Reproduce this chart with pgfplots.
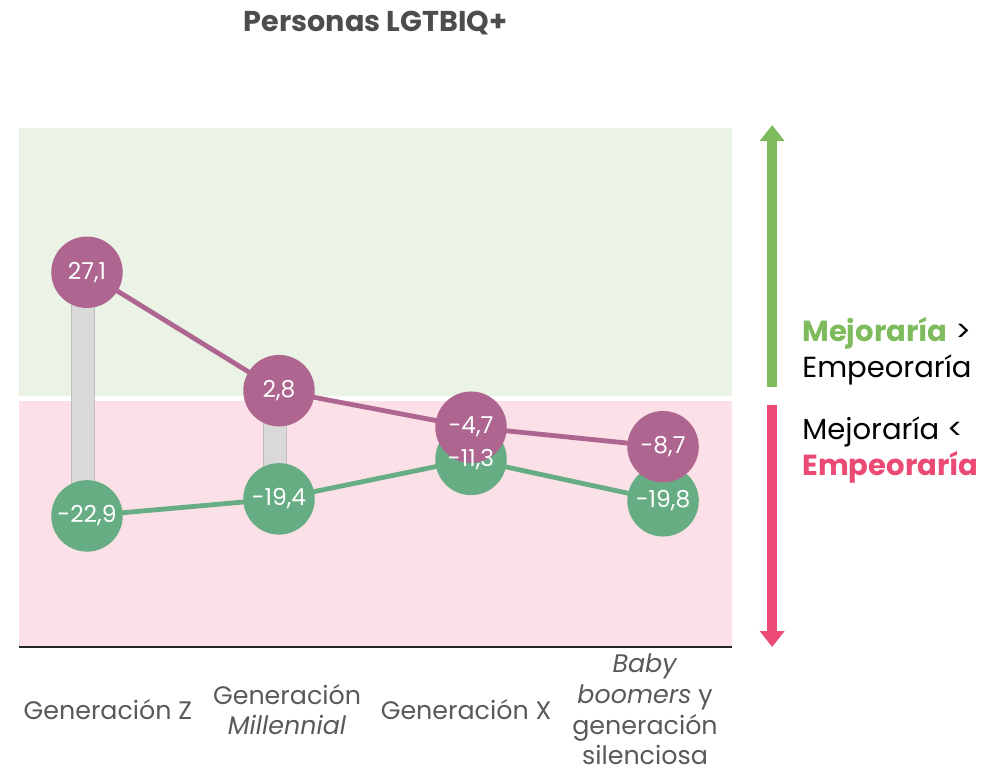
\documentclass[border=0pt]{standalone}
\usepackage{pgfplots}
\pgfplotsset{compat=1.18}
\usepackage{pgfplotstable}
\usepackage{fontspec}
\setmainfont{Poppins}
\usetikzlibrary{arrows.meta}

\definecolor{cpurple}{HTML}{AE6690}
\definecolor{cgreen}{HTML}{67AD84}
\definecolor{bggreen}{HTML}{EBF3E6}
\definecolor{bgpink}{HTML}{FBE0E7}
\definecolor{argreen}{HTML}{7DBB5C}
\definecolor{arpink}{HTML}{EB4A75}
\definecolor{barfill}{HTML}{D9D9D9}
\definecolor{baredge}{HTML}{BEBEBE}
\definecolor{axline}{HTML}{262626}
\definecolor{ticktxt}{HTML}{595959}
\definecolor{titletxt}{HTML}{4D4D4D}

\pgfplotstableread{
x y lbl
0 -22.9 -22,9
1 -19.4 -19,4
2 -11.3 -11,3
3 -19.8 -19,8
}\serieverde

\pgfplotstableread{
x y lbl
0 27.1 27,1
1 2.8 2,8
2 -4.7 -4,7
3 -8.7 -8,7
}\seriemorada

\begin{document}
\begin{tikzpicture}
\path[use as bounding box] (-14.25pt,-93.75pt) rectangle (738.75pt,485.25pt);
\begin{axis}[
  at={(0,0)}, anchor=south west,
  scale only axis,
  width=534.75pt, height=389.25pt,
  xmin=-0.354, xmax=3.359,
  ymin=-49.8, ymax=56.7,
  clip=false,
  axis on top,
  axis x line*=bottom,
  axis y line=none,
  x axis line style={line width=2pt, color=axline},
  xtick={0.109,1.042,1.974,2.906},
  major tick length=0pt,
  xticklabels={Generación Z, Generación\\\textit{Millennial}, Generación X, \textit{Baby}\\\textit{boomers} y\\generación\\silenciosa},
  xticklabel style={anchor=center, align=center, yshift=-47pt, text=ticktxt, font=\fontsize{19}{23}\selectfont},
  labelstyle/.style={draw=none, mark=none, nodes near coords, point meta=explicit symbolic,
    every node near coord/.append style={anchor=center, text=white, font=\fontsize{17.5}{20}\selectfont}},
]
% background bands
\fill[bggreen] (axis cs:-0.354,1.8) rectangle (axis cs:3.359,56.7);
\fill[bgpink] (axis cs:-0.354,-49.8) rectangle (axis cs:3.359,0.76);

% grey range bars
\addplot[fill=barfill, draw=baredge, line width=0.8pt] coordinates {(-0.08,-22.9) (0.04,-22.9) (0.04,27.1) (-0.08,27.1)} --cycle;
\addplot[fill=barfill, draw=baredge, line width=0.8pt] coordinates {(0.92,-19.4) (1.04,-19.4) (1.04,2.8) (0.92,2.8)} --cycle;
\addplot[fill=barfill, draw=baredge, line width=0.8pt] coordinates {(1.92,-11.3) (2.04,-11.3) (2.04,-4.7) (1.92,-4.7)} --cycle;
\addplot[fill=barfill, draw=baredge, line width=0.8pt] coordinates {(2.92,-19.8) (3.04,-19.8) (3.04,-8.7) (2.92,-8.7)} --cycle;

% series
\addplot[color=cgreen, line width=3.6pt, mark=*, mark size=25pt, mark options={fill=cgreen, draw=none}]
  table[x=x, y=y] {\serieverde};
\addplot[color=cpurple, line width=3.6pt, mark=*, mark size=25pt, mark options={fill=cpurple, draw=none}]
  table[x=x, y=y] {\seriemorada};
% value labels on top
\addplot[labelstyle] table[x=x, y=y, meta=lbl] {\serieverde};
\addplot[labelstyle] table[x=x, y=y, meta=lbl] {\seriemorada};

% title
\node[text=titletxt, font=\fontsize{21.5}{24}\selectfont\bfseries] at (rel axis cs:0.5,1) [yshift=79pt] {Personas LGTBIQ+};

% arrows
\draw[argreen, line width=7.5pt, -{Triangle[width=18pt, length=12pt]}] (axis cs:3.568,3.57) -- (axis cs:3.568,57.3);
\draw[arpink, line width=7.5pt, -{Triangle[width=18pt, length=12pt]}] (axis cs:3.568,-0.12) -- (axis cs:3.568,-49.8);

% annotations
\node[anchor=west, align=left, font=\fontsize{21.8}{27}\selectfont, inner sep=0pt] at (axis cs:3.724,10.96)
  {{\bfseries\color{argreen}Mejoraría} >\\Empeoraría};
\node[anchor=west, align=left, font=\fontsize{21.8}{27}\selectfont, inner sep=0pt] at (axis cs:3.724,-9.46)
  {Mejoraría <\\{\bfseries\color{arpink}Empeoraría}};
\end{axis}
\end{tikzpicture}
\end{document}
